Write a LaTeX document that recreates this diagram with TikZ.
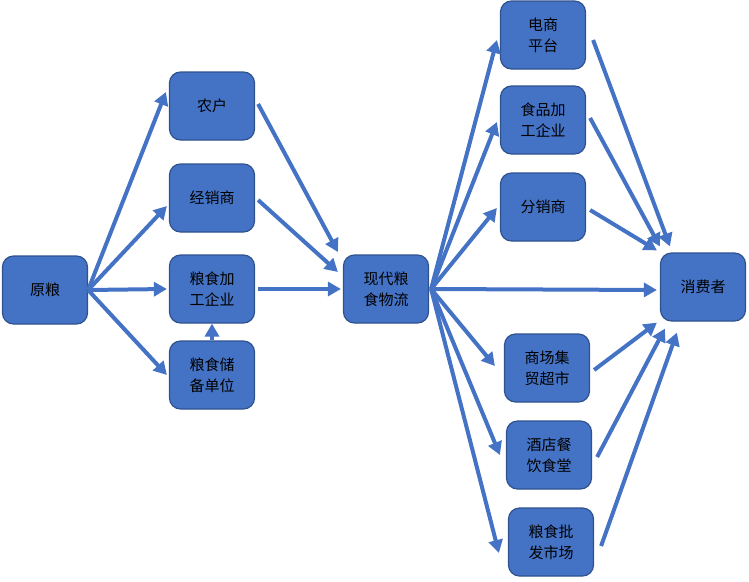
\documentclass[tikz,border=0pt]{standalone}
\usepackage{fontspec}
\newfontfamily\cjk{Noto Sans CJK SC}
\usetikzlibrary{arrows.meta,calc}
\definecolor{boxblue}{HTML}{4472C4}
\definecolor{boxedge}{HTML}{2F528F}
\tikzset{
  box/.style={draw=boxedge,fill=boxblue,line width=1.2pt,rounded corners=11pt,
    minimum width=85pt,minimum height=68pt,inner sep=0pt,align=center,
    font=\cjk\fontsize{15}{21}\selectfont,text=black},
  arr/.style={draw=boxblue,line width=4pt,-{Triangle[length=13pt,width=14pt]}}
}
\begin{document}
\begin{tikzpicture}[x=1pt,y=-1pt]
\useasboundingbox (0,0) rectangle (749,581);
\node[box] (yl) at (45,290) {原粮};
\node[box] (nh) at (212,106) {农户};
\node[box] (jx) at (212,198) {经销商};
\node[box] (jg) at (212,289) {粮食加\\工企业};
\node[box] (cb) at (212,375) {粮食储\\备单位};
\node[box] (xd) at (386,289) {现代粮\\食物流};
\node[box] (ds) at (543,35) {电商\\平台};
\node[box] (sp) at (543,120) {食品加\\工企业};
\node[box] (fx) at (543,207) {分销商};
\node[box] (sc) at (547,368) {商场集\\贸超市};
\node[box] (jd) at (549,455) {酒店餐\\饮食堂};
\node[box] (pf) at (551,542) {粮食批\\发市场};
\node[box] (xf) at (703,287) {消费者};
% left
\draw[arr] (yl.east) -- ([xshift=-3pt,yshift=14pt]nh.west);
\draw[arr] (yl.east) -- ([xshift=-2pt,yshift=-8pt]jx.west);
\draw[arr] (yl.east) -- ([xshift=-2pt]jg.west);
\draw[arr] (yl.east) -- ([xshift=-2pt]cb.west);
\draw[arr] (cb.north) -- (jg.south);
% middle
\draw[arr] ([xshift=3pt,yshift=2pt]nh.east) -- ([xshift=-5pt,yshift=37pt]xd.west);
\draw[arr] ([xshift=3pt,yshift=-2pt]jx.east) -- ([xshift=-5pt,yshift=17pt]xd.west);
\draw[arr] ([xshift=3pt]jg.east) -- ([xshift=-2pt]xd.west);
% right fan out
\draw[arr] ([xshift=2pt]xd.east) -- ([xshift=-3pt,yshift=-5pt]ds.west);
\draw[arr] ([xshift=2pt]xd.east) -- ([xshift=-3pt,yshift=-2pt]sp.west);
\draw[arr] ([xshift=2pt]xd.east) -- ([xshift=-3pt,yshift=-1pt]fx.west);
\draw[arr] ([xshift=2pt]xd.east) -- ([xshift=-3pt,yshift=-3pt]xf.west);
\draw[arr] ([xshift=2pt]xd.east) -- ([xshift=-9pt,yshift=2pt]sc.west);
\draw[arr] ([xshift=2pt]xd.east) -- ([xshift=-6pt]jd.west);
\draw[arr] ([xshift=2pt]xd.east) -- ([xshift=-9pt,yshift=-11pt]pf.west);
% to consumer
\draw[arr] ([xshift=7pt,yshift=-5pt]ds.east) -- ([xshift=10pt,yshift=6pt]xf.north west);
\draw[arr] ([xshift=4pt,yshift=2pt]sp.east) -- ([xshift=0pt,yshift=6pt]xf.north west);
\draw[arr] ([xshift=4pt,yshift=-3pt]fx.east) -- ([xshift=-3pt,yshift=2pt]xf.north west);
\draw[arr] ([xshift=4pt,yshift=-2pt]sc.east) -- ([xshift=-3pt,yshift=-1pt]xf.south west);
\draw[arr] ([xshift=5pt,yshift=-2pt]jd.east) -- ([xshift=5pt,yshift=-7pt]xf.south west);
\draw[arr] ([xshift=7pt,yshift=-4pt]pf.east) -- ([xshift=17pt,yshift=-11pt]xf.south west);
\end{tikzpicture}
\end{document}
